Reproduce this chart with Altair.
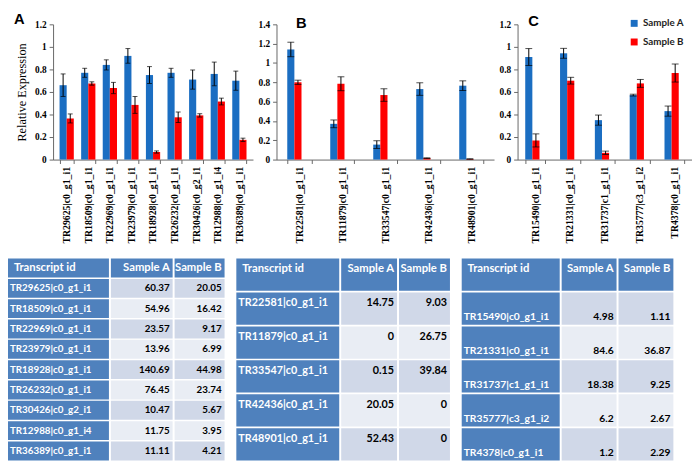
import altair as alt
import pandas as pd

# ---------------- data ----------------
cats_a = ["TR29625|c0_g1_i1", "TR18509|c0_g1_i1", "TR22969|c0_g1_i1", "TR23979|c0_g1_i1",
          "TR18928|c0_g1_i1", "TR26232|c0_g1_i1", "TR30426|c0_g2_i1", "TR12988|c0_g1_i4",
          "TR36389|c0_g1_i1"]
sa_a = [0.66, 0.77, 0.84, 0.92, 0.75, 0.77, 0.71, 0.76, 0.70]
sa_a_err = [0.10, 0.04, 0.045, 0.065, 0.075, 0.04, 0.085, 0.105, 0.085]
sb_a = [0.365, 0.675, 0.635, 0.485, 0.067, 0.375, 0.392, 0.515, 0.175]
sb_a_err = [0.04, 0.015, 0.05, 0.075, 0.01, 0.047, 0.015, 0.03, 0.015]

cats_b = ["TR22581|c0_g1_i1", "TR11879|c0_g1_i1", "TR33547|c0_g1_i1", "TR42436|c0_g1_i1",
          "TR48901|c0_g1_i1"]
sa_b = [1.14, 0.37, 0.155, 0.73, 0.765]
sa_b_err = [0.075, 0.04, 0.04, 0.065, 0.05]
sb_b = [0.80, 0.785, 0.668, 0.015, 0.006]
sb_b_err = [0.022, 0.072, 0.065, 0.003, 0.002]

cats_c = ["TR15490|c0_g1_i1", "TR21331|c0_g1_i1", "TR31737|c1_g1_i1", "TR35777|c3_g1_i2",
          "TR4378|c0_g1_i1"]
sa_c = [0.91, 0.943, 0.35, 0.572, 0.43]
sa_c_err = [0.075, 0.044, 0.045, 0.008, 0.045]
sb_c = [0.17, 0.70, 0.06, 0.676, 0.768]
sb_c_err = [0.058, 0.03, 0.015, 0.035, 0.08]

t1_ids = cats_a
t1_a = [60.37, 54.96, 23.57, 13.96, 140.69, 76.45, 10.47, 11.75, 11.11]
t1_b = [20.05, 16.42, 9.17, 6.99, 44.98, 23.74, 5.67, 3.95, 4.21]
t2_ids = cats_b
t2_a = [14.75, 0, 0.15, 20.05, 52.43]
t2_b = [9.03, 26.75, 39.84, 0, 0]
t3_ids = cats_c
t3_a = [4.98, 84.6, 18.38, 6.2, 1.2]
t3_b = [1.11, 36.87, 9.25, 2.67, 2.29]

samples = ["Sample A", "Sample B"]
BLUE = "#1B6EC2"
RED = "#FF0000"
HEAD = "#4F81BD"
BAND1 = "#D0D8E8"
BAND2 = "#E9EDF4"
SERIF = "Liberation Serif"
SANS = "Lato"


def bar_panel(cats, a, ae, b, be, width, height, ymax, pad, pout, letter, lx, ly, cap,
              ytitle, legend):
    rows = []
    for i, c in enumerate(cats):
        rows.append(dict(cat=c, sample="Sample A", v=a[i], lo=a[i] - ae[i], hi=a[i] + ae[i]))
        rows.append(dict(cat=c, sample="Sample B", v=b[i], lo=b[i] - be[i], hi=b[i] + be[i]))
    df = pd.DataFrame(rows)
    xscale = alt.Scale(paddingInner=pad, paddingOuter=pout)
    xaxis = alt.Axis(title=None, labelAngle=270, labelFont=SERIF,
                     labelFontWeight="bold", labelFontSize=10, labelColor="black",
                     tickBand="extent", tickSize=4, tickColor="#666",
                     domainColor="#666", labelPadding=3, labelOverlap=False)
    x = alt.X("cat:N", sort=cats, scale=xscale, axis=xaxis)
    xo = alt.XOffset("sample:N", sort=samples, scale=alt.Scale(paddingInner=0, paddingOuter=0))
    ticks = [round(k * 0.2, 1) for k in range(int(round(ymax / 0.2)) + 1)]
    yscale = alt.Scale(domain=[0, ymax], nice=False)
    yaxis = alt.Axis(values=ticks, format=".1~f", grid=False, labelFont=SERIF,
                     labelFontWeight="bold", labelFontSize=9.5, labelColor="black",
                     labelOverlap=False, labelPadding=3,
                     tickSize=4, tickColor="#666", domainColor="#666",
                     titleFont=SERIF, titleFontWeight="normal", titleFontSize=12.5,
                     titleColor="black", titlePadding=6)
    color = alt.Color("sample:N", scale=alt.Scale(domain=samples, range=[BLUE, RED]),
                      legend=legend)
    base = alt.Chart(df)
    bars = base.mark_bar().encode(
        x=x, xOffset=xo, y=alt.Y("v:Q", scale=yscale, axis=yaxis, title=ytitle),
        color=color)
    rules = base.mark_rule(color="black", strokeWidth=1).encode(
        x=x, xOffset=xo, y=alt.Y("lo:Q", scale=yscale, axis=yaxis, title=ytitle), y2="hi:Q")
    cap_lo = base.mark_tick(color="black", thickness=1, size=cap).encode(
        x=x, xOffset=xo, y=alt.Y("lo:Q", scale=yscale, axis=yaxis, title=ytitle))
    cap_hi = base.mark_tick(color="black", thickness=1, size=cap).encode(
        x=x, xOffset=xo, y=alt.Y("hi:Q", scale=yscale, axis=yaxis, title=ytitle))
    lab = alt.Chart(pd.DataFrame({"t": [letter]})).mark_text(
        font="Liberation Sans", fontWeight="bold", fontSize=15, align="left",
        baseline="top", color="black").encode(text="t:N", x=alt.value(lx), y=alt.value(ly))
    return alt.layer(bars, rules, cap_lo, cap_hi, lab).properties(width=width, height=height)


legend_c = alt.Legend(title=None, orient="none", legendX=114, legendY=-6,
                      symbolType="square", symbolSize=50,
                      labelFont=SANS, labelFontWeight="bold", labelFontSize=10,
                      labelColor="#222", rowPadding=9)

pA = bar_panel(cats_a, sa_a, sa_a_err, sb_a, sb_a_err, 204, 138, 1.2, 0.34, 0.3, "A", -40, -12,
               5, "Relative Expression", None)
pB = bar_panel(cats_b, sa_b, sa_b_err, sb_b, sb_b_err, 222, 138, 1.4, 0.44, 0.25, "B", 20, -8, 7,
               None, None)
pC = bar_panel(cats_c, sa_c, sa_c_err, sb_c, sb_c_err, 178, 138, 1.2, 0.43, 0.22, "C", 11, -10, 7,
               None, legend_c)

# zero-extent spacer so the row's origin sits at its left edge
spacer = alt.Chart(pd.DataFrame({"t": [""]})).mark_text().encode(
    text="t:N").properties(width=1, height=20)

top = alt.hconcat(spacer, pA, pB, pC, spacing=5).resolve_scale(color="independent")


def fmt(v):
    return f"{v:g}"


def table(ids, va, vb, widths, height, body_valign, head_valign, body_fs, head_fs, pin):
    n = len(ids)
    keys = [f"{i:02d}" for i in range(n + 1)]
    cols = []
    specs = [("Transcript id", ids, "id"), ("Sample A", [fmt(v) for v in va], "val"),
             ("Sample B", [fmt(v) for v in vb], "val")]
    for (header, vals, kind), w in zip(specs, widths):
        fills = [HEAD] + ([HEAD] * n if kind == "id" else
                          [BAND1 if i % 2 == 0 else BAND2 for i in range(n)])
        df = pd.DataFrame({"k": keys, "f": fills, "t": [header] + list(vals),
                           "tc": ["white"] + (["white"] * n if kind == "id" else ["black"] * n),
                           "h": [1] + [0] * n})
        yscale = alt.Scale(paddingInner=pin, paddingOuter=0)
        rect = alt.Chart(df).mark_rect().encode(
            y=alt.Y("k:O", axis=None, scale=yscale, sort=keys),
            color=alt.Color("f:N", scale=None))
        layers = [rect]
        for is_head, valign, fs in [(1, head_valign, head_fs), (0, body_valign, body_fs)]:
            if valign == "top":
                bp, bl, dy = 0, "top", 5
            elif valign == "bottom":
                bp, bl, dy = 1, "bottom", -3
            else:
                bp, bl, dy = 0.5, "middle", 0
            if kind == "id":
                xv, al = alt.value(2), "left"
                if is_head:
                    xv = alt.value(6)
            else:
                xv, al = alt.value(w - 3), "right"
            txt = alt.Chart(df).transform_filter(alt.datum.h == is_head).mark_text(
                font=SANS, fontWeight="bold", fontSize=fs, align=al, baseline=bl, dy=dy
            ).encode(y=alt.Y("k:O", axis=None, scale=yscale, sort=keys, bandPosition=bp),
                     x=xv, text="t:N", color=alt.Color("tc:N", scale=None))
            layers.append(txt)
        cols.append(alt.layer(*layers).properties(width=w, height=height))
    return alt.hconcat(*cols, spacing=2)


T1 = table(t1_ids, t1_a, t1_b, [103, 63, 51], 206, "middle", "middle", 10, 11.5, 0.07)
T2 = table(t2_ids, t2_a, t2_b, [105, 57, 52], 206, "top", "top", 11, 11.5, 0.05)
T3 = table(t3_ids, t3_a, t3_b, [100, 56, 56], 206, "bottom", "top", 10.5, 11.5, 0.05)

bottom = alt.hconcat(T1, T2, T3, spacing=12)

chart = alt.vconcat(top, bottom, spacing=15).resolve_scale(
    color="independent").properties(padding=0).configure_view(stroke=None)

chart.save("out.html", embed_options={"renderer": "svg", "actions": False})
